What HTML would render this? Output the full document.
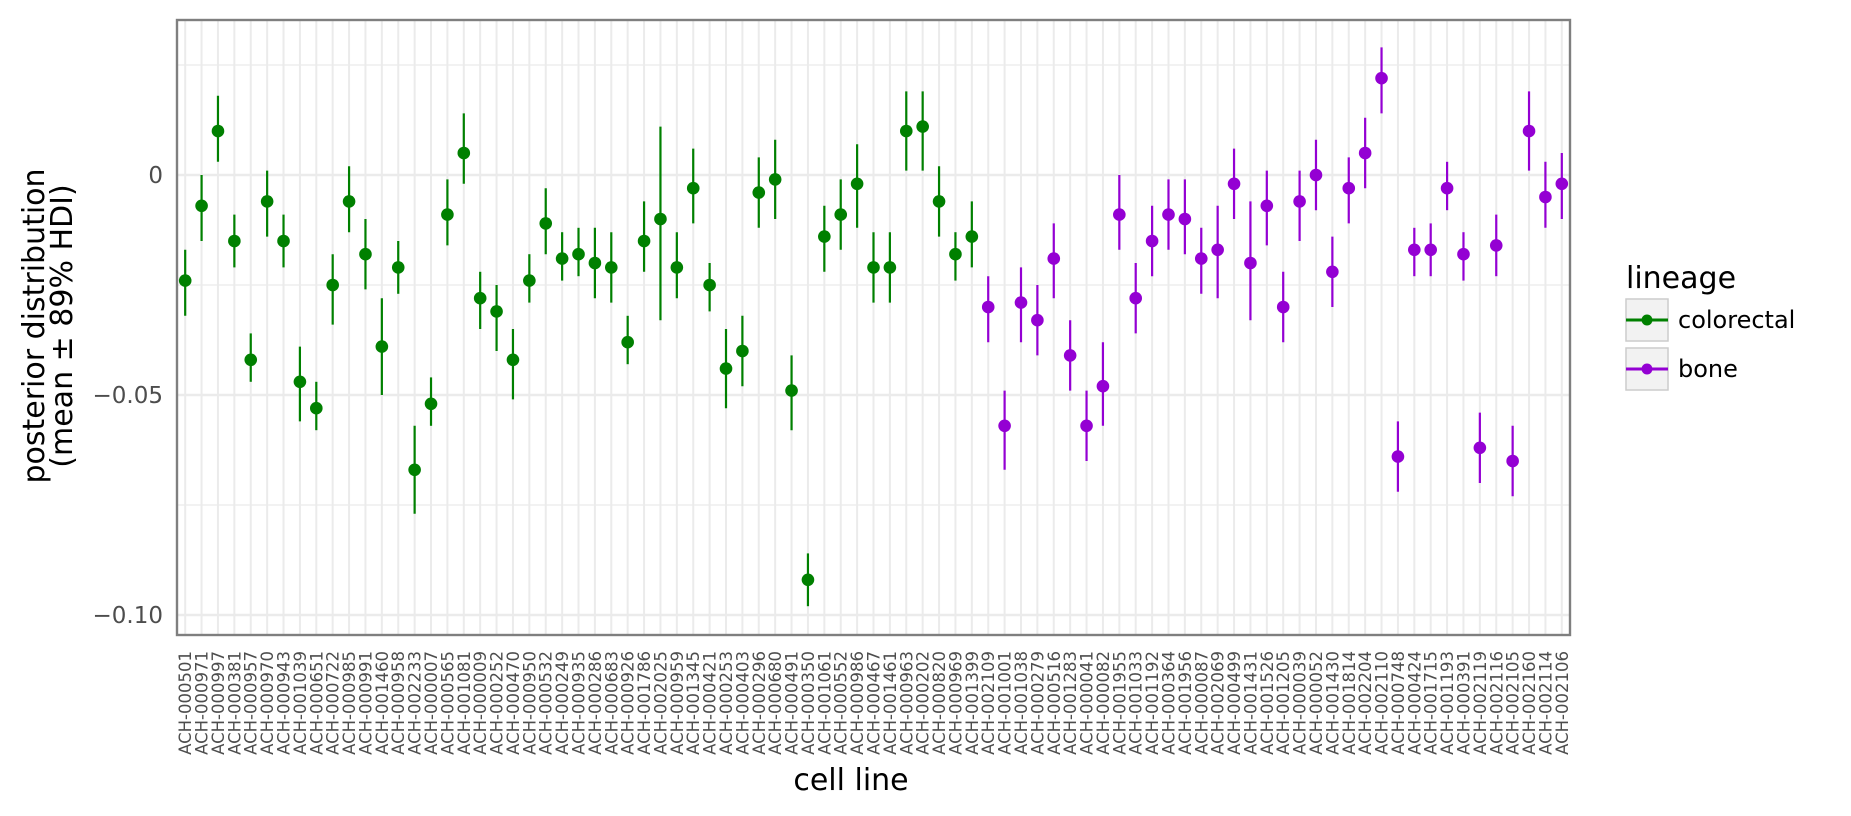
<!DOCTYPE html>
<html><head><meta charset="utf-8"><style>
html,body{margin:0;padding:0;background:#fff;}
svg{display:block;font-family:"DejaVu Sans","Liberation Sans",sans-serif;}
</style></head><body>
<svg id="chart" width="1851" height="816" xmlns="http://www.w3.org/2000/svg">
<g id="grid"></g>
<g id="marks"></g>
<rect x="177" y="20" width="1393" height="615" fill="none" stroke="#7f7f7f" stroke-width="2.4"/>
<g id="yticks"></g>
<g id="xticks"></g>
<text x="0" y="0" transform="translate(44,326) rotate(-90)" text-anchor="middle" font-size="30" fill="#000">posterior distribution</text>
<text x="0" y="0" transform="translate(72,326) rotate(-90)" text-anchor="middle" font-size="30" fill="#000">(mean ± 89% HDI)</text>
<text x="851" y="790" text-anchor="middle" font-size="30" fill="#000">cell line</text>
<g>
<text x="1626" y="288" font-size="30" fill="#000">lineage</text>
<g>
<rect x="1626" y="299" width="42" height="42" fill="#f2f2f2" stroke="#cccccc" stroke-width="1.5"/>
<line x1="1626" y1="320" x2="1668" y2="320" stroke="#008000" stroke-width="3"/>
<circle cx="1647" cy="320" r="5.5" fill="#008000"/>
<text x="1678" y="328" font-size="24" fill="#000">colorectal</text>
</g>
<g>
<rect x="1626" y="348" width="42" height="42" fill="#f2f2f2" stroke="#cccccc" stroke-width="1.5"/>
<line x1="1626" y1="369" x2="1668" y2="369" stroke="#9400d3" stroke-width="3"/>
<circle cx="1647" cy="369" r="5.5" fill="#9400d3"/>
<text x="1678" y="377" font-size="24" fill="#000">bone</text>
</g>
</g>
</svg>
<script>
const cellLines = ["ACH-000501","ACH-000971","ACH-000997","ACH-000381","ACH-000957","ACH-000970","ACH-000943","ACH-001039","ACH-000651","ACH-000722","ACH-000985","ACH-000991","ACH-001460","ACH-000958","ACH-002233","ACH-000007","ACH-000565","ACH-001081","ACH-000009","ACH-000252","ACH-000470","ACH-000950","ACH-000532","ACH-000249","ACH-000935","ACH-000286","ACH-000683","ACH-000926","ACH-001786","ACH-002025","ACH-000959","ACH-001345","ACH-000421","ACH-000253","ACH-000403","ACH-000296","ACH-000680","ACH-000491","ACH-000350","ACH-001061","ACH-000552","ACH-000986","ACH-000467","ACH-001461","ACH-000963","ACH-000202","ACH-000820","ACH-000969","ACH-001399","ACH-002109","ACH-001001","ACH-001038","ACH-000279","ACH-000516","ACH-001283","ACH-000041","ACH-000082","ACH-001955","ACH-001033","ACH-001192","ACH-000364","ACH-001956","ACH-000087","ACH-002069","ACH-000499","ACH-001431","ACH-001526","ACH-001205","ACH-000039","ACH-000052","ACH-001430","ACH-001814","ACH-002204","ACH-002110","ACH-000748","ACH-000424","ACH-001715","ACH-001193","ACH-000391","ACH-002119","ACH-002116","ACH-002105","ACH-002160","ACH-002114","ACH-002106"];
const lineage = Array(49).fill("colorectal").concat(Array(36).fill("bone"));
const means = [-0.024,-0.007,0.010,-0.015,-0.042,-0.006,-0.015,-0.047,-0.053,-0.025,-0.006,-0.018,-0.039,-0.021,-0.067,-0.052,-0.009,0.005,-0.028,-0.031,-0.042,-0.024,-0.011,-0.019,-0.018,-0.020,-0.021,-0.038,-0.015,-0.010,-0.021,-0.003,-0.025,-0.044,-0.040,-0.004,-0.001,-0.049,-0.092,-0.014,-0.009,-0.002,-0.021,-0.021,0.010,0.011,-0.006,-0.018,-0.014,-0.030,-0.057,-0.029,-0.033,-0.019,-0.041,-0.057,-0.048,-0.009,-0.028,-0.015,-0.009,-0.010,-0.019,-0.017,-0.002,-0.020,-0.007,-0.030,-0.006,0.000,-0.022,-0.003,0.005,0.022,-0.064,-0.017,-0.017,-0.003,-0.018,-0.062,-0.016,-0.065,0.010,-0.005,-0.002];
const lows = [-0.032,-0.015,0.003,-0.021,-0.047,-0.014,-0.021,-0.056,-0.058,-0.034,-0.013,-0.026,-0.050,-0.027,-0.077,-0.057,-0.016,-0.002,-0.035,-0.040,-0.051,-0.029,-0.018,-0.024,-0.023,-0.028,-0.029,-0.043,-0.022,-0.033,-0.028,-0.011,-0.031,-0.053,-0.048,-0.012,-0.010,-0.058,-0.098,-0.022,-0.017,-0.012,-0.029,-0.029,0.001,0.001,-0.014,-0.024,-0.021,-0.038,-0.067,-0.038,-0.041,-0.028,-0.049,-0.065,-0.057,-0.017,-0.036,-0.023,-0.017,-0.018,-0.027,-0.028,-0.010,-0.033,-0.016,-0.038,-0.015,-0.008,-0.030,-0.011,-0.003,0.014,-0.072,-0.023,-0.023,-0.008,-0.024,-0.070,-0.023,-0.073,0.001,-0.012,-0.010];
const highs = [-0.017,0.000,0.018,-0.009,-0.036,0.001,-0.009,-0.039,-0.047,-0.018,0.002,-0.010,-0.028,-0.015,-0.057,-0.046,-0.001,0.014,-0.022,-0.025,-0.035,-0.018,-0.003,-0.013,-0.012,-0.012,-0.013,-0.032,-0.006,0.011,-0.013,0.006,-0.020,-0.035,-0.032,0.004,0.008,-0.041,-0.086,-0.007,-0.001,0.007,-0.013,-0.013,0.019,0.019,0.002,-0.013,-0.006,-0.023,-0.049,-0.021,-0.025,-0.011,-0.033,-0.049,-0.038,0.000,-0.020,-0.007,-0.001,-0.001,-0.012,-0.007,0.006,-0.006,0.001,-0.022,0.001,0.008,-0.014,0.004,0.013,0.029,-0.056,-0.012,-0.011,0.003,-0.013,-0.054,-0.009,-0.057,0.019,0.003,0.005];
const yTickValues = [0,-0.05,-0.10];
const yTickLabels = ["0","\u22120.05","\u22120.10"];
const yMinorValues = [0.025,-0.025,-0.075];

const NS="http://www.w3.org/2000/svg";
const L=177,R=1570,T=20,B=635;
const colors={colorectal:"#008000",bone:"#9400d3"};
const step=(R-L)/cellLines.length;
function xPos(i){return L+(i+0.5)*step;}
function yPos(v){return 175-(v/0.05)*220;}
function mk(tag,attrs,parent){const e=document.createElementNS(NS,tag);for(const k in attrs)e.setAttribute(k,attrs[k]);parent.appendChild(e);return e;}
const grid=document.getElementById('grid'),marks=document.getElementById('marks'),yt=document.getElementById('yticks'),xt=document.getElementById('xticks');
mk('rect',{x:L,y:T,width:R-L,height:B-T,fill:'#fff'},grid);
yMinorValues.forEach(v=>{const l=mk('line',{x1:L,x2:R,y1:yPos(v),y2:yPos(v),stroke:'#ebebeb','stroke-width':1.3},grid);

});
yTickValues.forEach((v,i)=>{const l=mk('line',{x1:L,x2:R,y1:yPos(v),y2:yPos(v),stroke:'#ebebeb','stroke-width':2.6},grid);


const t=mk('text',{x:163,y:yPos(v)+8,'text-anchor':'end','font-size':23,fill:'#4d4d4d'},yt);t.textContent=yTickLabels[i];

});
cellLines.forEach((c,i)=>{const x=xPos(i);
const g=mk('line',{x1:x,x2:x,y1:T,y2:B,stroke:'#ebebeb','stroke-width':2},grid);


const t=mk('text',{x:0,y:0,transform:`translate(${x+6},651) rotate(-90)`,'text-anchor':'end','font-size':16.5,fill:'#4d4d4d'},xt);t.textContent=c;


const col=colors[lineage[i]];
const e=mk('line',{x1:x,x2:x,y1:yPos(highs[i]),y2:yPos(lows[i]),stroke:col,'stroke-width':2.2},marks);


const p=mk('circle',{cx:x,cy:yPos(means[i]),r:6.3,fill:col},marks);

});
</script>
</body></html>
